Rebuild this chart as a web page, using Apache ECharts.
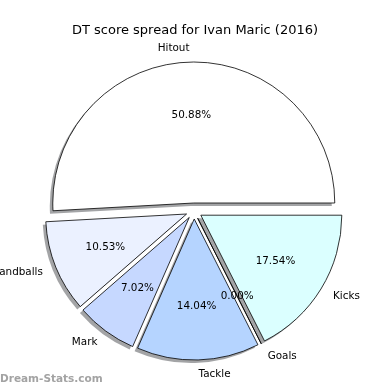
<!DOCTYPE html>
<html>
<head>
<meta charset="utf-8">
<script src="https://cdn.jsdelivr.net/npm/echarts@6/dist/echarts.min.js"></script>
<style>html,body{margin:0;padding:0;background:#fff}#c{width:390px;height:390px}</style>
</head>
<body>
<div id="c"></div>
<script>
const categories = ['Hitout', 'Handballs', 'Mark', 'Tackle', 'Goals', 'Kicks'];
const values = [50.88, 10.53, 7.02, 14.04, 0.00, 17.54];
const palette = ['#ffffff', '#ebf1ff', '#c6d8ff', '#b5d4ff', '#c0ffff', '#dbffff'];
const titleText = 'DT score spread for Ivan Maric (2016)';
const watermark = 'Dream-Stats.com';

const FONT = 'DejaVu Sans';
const R = 141;
const CENTER = [194, 211];
const SHADOW_CENTER = [191, 214];
const OFFSET = 8;

const chart = echarts.init(document.getElementById('c'), null, {renderer: 'canvas'});

const sliceData = categories.map((n, i) => ({
  name: n, value: values[i], selected: true,
  itemStyle: {color: palette[i]}
}));
const plainData = categories.map((n, i) => ({
  name: n, value: values[i], selected: true
}));

const common = {
  type: 'pie',
  startAngle: 0,
  clockwise: false,
  selectedMode: 'multiple',
  selectedOffset: OFFSET,
  avoidLabelOverlap: false,
  animation: false,
  silent: true,
  emphasis: {disabled: true, scale: false},
  minShowLabelAngle: 0
};

chart.setOption({
  animation: false,
  title: {
    text: titleText, left: 'center', top: 19,
    textStyle: {fontFamily: FONT, fontSize: 13, fontWeight: 'normal', color: '#000'}
  },
  graphic: [{
    type: 'text', left: 0, top: 374,
    style: {text: watermark, font: 'bold 10.5px "DejaVu Sans"', fill: '#a3a3a3'}
  }],
  series: [
    Object.assign({}, common, {
      name: 'shadow',
      center: SHADOW_CENTER,
      radius: [0, R],
      z: 1,
      itemStyle: {color: 'rgba(72,74,77,0.5)', borderWidth: 0},
      select: {itemStyle: {color: 'rgba(72,74,77,0.5)', borderWidth: 0}},
      label: {show: false},
      labelLine: {show: false},
      data: plainData
    }),
    Object.assign({}, common, {
      name: 'slices',
      center: CENTER,
      radius: [0, R],
      z: 2,
      itemStyle: {borderColor: '#000', borderWidth: 0.8},
      select: {itemStyle: {borderColor: '#000', borderWidth: 0.8}},
      label: {
        show: true, position: 'outside', fontFamily: FONT, fontSize: 10.4, color: '#000',
        distanceToLabelLine: 0, formatter: '{b}'
      },
      labelLine: {show: false, length: R * 0.1, length2: 0},
      data: sliceData
    }),
    Object.assign({}, common, {
      name: 'pct',
      center: CENTER,
      radius: [0, R * 1.2],
      z: 5,
      itemStyle: {color: 'rgba(0,0,0,0)', borderWidth: 0},
      select: {itemStyle: {color: 'rgba(0,0,0,0)', borderWidth: 0}},
      label: {
        show: true, position: 'inside', fontFamily: FONT, fontSize: 10.4, color: '#000',
        formatter: p => p.value.toFixed(2) + '%'
      },
      labelLine: {show: false},
      data: plainData
    })
  ]
});
</script>
</body>
</html>
